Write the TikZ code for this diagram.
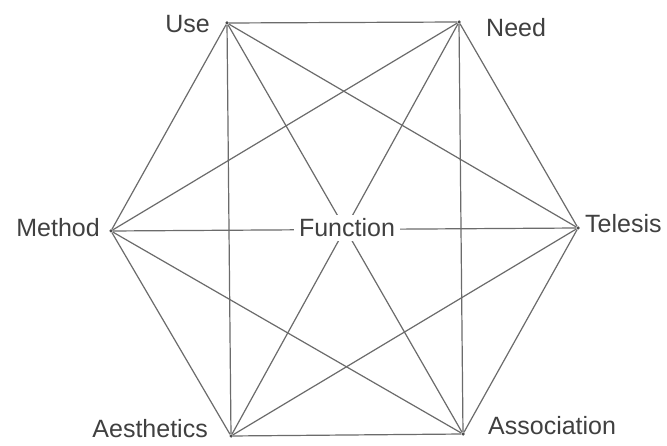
\documentclass[tikz,border=0pt]{standalone}
\usepackage{fontspec}
\setmainfont{Liberation Sans}
\begin{document}
\begin{tikzpicture}[x=1pt,y=-1pt,
  edge/.style={draw=black!58,line width=1.2pt},
  lbl/.style={inner sep=0pt,text=black!75,font=\fontsize{25}{30}\selectfont},
  dot/.style={circle,fill=black!70,inner sep=0pt,minimum size=3.5pt}]
\useasboundingbox (0,0) rectangle (667,446);
\fill[white] (0,0) rectangle (667,446);
% vertices
\node[dot] (U) at (227,23) {};
\node[dot] (N) at (459,22) {};
\node[dot] (T) at (578,228) {};
\node[dot] (As) at (463,434) {};
\node[dot] (Ae) at (231,436) {};
\node[dot] (M) at (111,231) {};
% all connections
\foreach \a/\b in {U/N,U/T,U/As,U/Ae,U/M,N/T,N/As,N/Ae,N/M,T/As,T/Ae,T/M,As/Ae,As/M,Ae/M}
  \draw[edge] (\a) -- (\b);
% centre label
\node[lbl,fill=white,inner xsep=5pt,inner ysep=4pt,anchor=base] (F) at (347,237) {Function};
% labels
\node[lbl,anchor=base east] (lU) at (210,33) {Use};
\node[lbl,anchor=base west] (lN) at (486,37) {Need};
\node[lbl,anchor=base east] (lM) at (100,237) {Method};
\node[lbl,anchor=base west] (lT) at (585,233) {Telesis};
\node[lbl,anchor=base east] (lAe) at (208,437) {Aesthetics};
\node[lbl,anchor=base west] (lAs) at (488,435) {Association};
\end{tikzpicture}
\end{document}
